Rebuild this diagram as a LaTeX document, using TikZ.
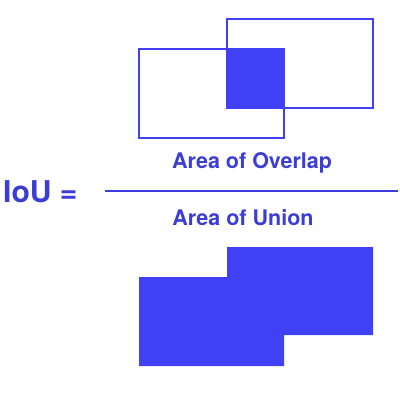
\documentclass[tikz,border=0pt]{standalone}
\usepackage{fontspec}
\setmainfont{TeX Gyre Heros}
\usetikzlibrary{positioning}
\definecolor{ioublue}{RGB}{64,64,245}
\definecolor{ioutext}{RGB}{60,60,215}
\tikzstyle{box}=[draw=ioublue, line width=2.6pt]
\tikzstyle{area}=[fill=ioublue, draw=none]
\tikzstyle{label}=[text=ioutext, font=\bfseries\fontsize{21.5}{24}\selectfont, inner sep=0pt, anchor=base]

\begin{document}
\begin{tikzpicture}[x=1pt, y=-1pt]
            \useasboundingbox (0,0) rectangle (400,400);

            % intersection
            \fill[area] (227,49) rectangle (284,108);
            \begin{scope}[every path/.style={box}]
                \draw (139,49) rectangle (284,138);
                \draw (227,19) rectangle (373,108);
            \end{scope}

            \node[label, anchor=base west, font=\bfseries\fontsize{30}{34}\selectfont] (iou) at (3,202) {IoU =};
            \node[label] (overlap) at (252,168) {Area of Overlap};
            \node[label] (union) at (243,225) {Area of Union};

            \coordinate (barL) at (105,191);
            \coordinate (barR) at (398,191);
            \draw[ioutext, line width=2pt] (barL) -- (barR);

            % union
            \fill[area] (139,277) -- (227,277) -- (227,247) -- (373,247) -- (373,335)
                -- (284,335) -- (284,366) -- (139,366) -- cycle;
        \end{tikzpicture}
\end{document}
